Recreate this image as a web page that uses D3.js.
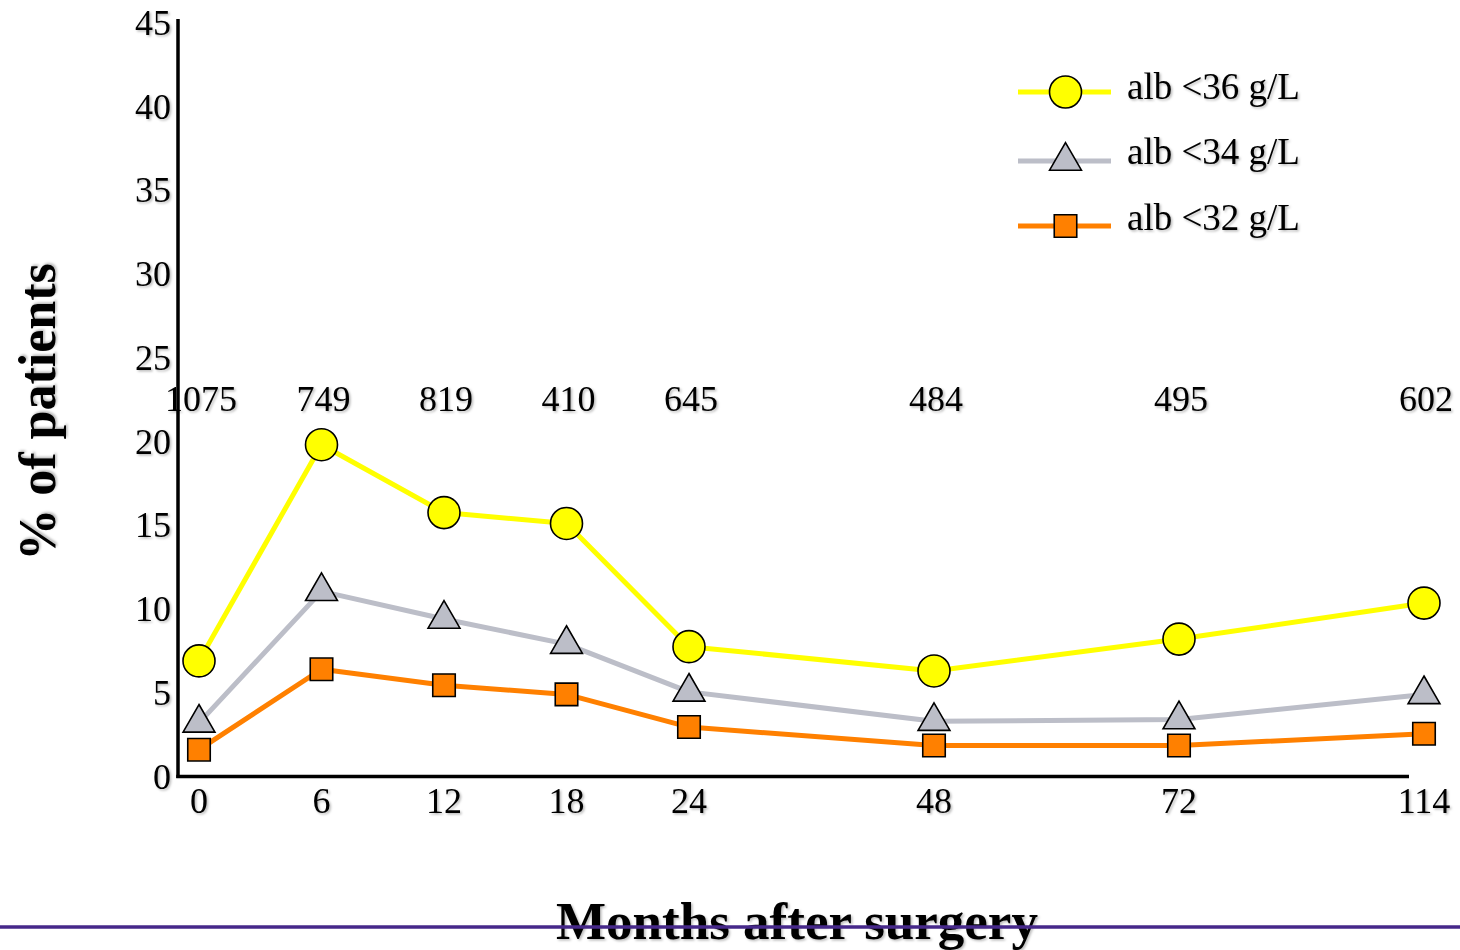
<!DOCTYPE html>
<html>
<head>
<meta charset="utf-8">
<script src="https://cdn.jsdelivr.net/npm/d3@7"></script>
<style>
  html, body { margin: 0; padding: 0; background: #ffffff; }
  svg { display: block; }
  text { font-family: "Liberation Serif", "Times New Roman", serif; fill: #000; }
</style>
</head>
<body>
<svg id="chart" width="1460" height="950"></svg>
<script>
// ---- data ----
const months = ["0", "6", "12", "18", "24", "48", "72", "114"];
const xSlot = [0, 1, 2, 3, 4, 6, 8, 10];           // uneven spacing of categories
const nPatients = ["1075", "749", "819", "410", "645", "484", "495", "602"];
const alb36 = [6.9, 19.8, 15.75, 15.1, 7.75, 6.3, 8.2, 10.35];
const alb34 = [3.2, 11.05, 9.4, 7.9, 5.05, 3.3, 3.4, 4.9];
const alb32 = [1.6, 6.4, 5.45, 4.9, 2.95, 1.85, 1.85, 2.55];
const seriesNames = ["alb <36 g/L", "alb <34 g/L", "alb <32 g/L"];
const yTicks = [0, 5, 10, 15, 20, 25, 30, 35, 40, 45];

// ---- layout ----
const svg = d3.select("#chart");
const axisX0 = 178, axisX1 = 1409, axisYTop = 19;
const x = d3.scaleLinear().domain([0, 10]).range([199, 1424]);
const y = d3.scaleLinear().domain([0, 45]).range([776.5, 22.5]);

const defs = svg.append("defs");
const f = defs.append("filter").attr("id", "shadow")
  .attr("x", "-10%").attr("y", "-10%").attr("width", "130%").attr("height", "140%");
f.append("feDropShadow").attr("dx", 1.5).attr("dy", 1.5)
  .attr("stdDeviation", 1).attr("flood-color", "#000").attr("flood-opacity", 0.28);

const series = [
  { name: seriesNames[0], values: alb36, color: "#FFFF00", shape: "circle" },
  { name: seriesNames[1], values: alb34, color: "#BCBEC8", shape: "triangle" },
  { name: seriesNames[2], values: alb32, color: "#FF8000", shape: "square" }
];

// axes
svg.append("line").attr("x1", axisX0).attr("x2", axisX0)
  .attr("y1", axisYTop).attr("y2", y(0) + 1.5)
  .attr("stroke", "#000").attr("stroke-width", 3.5);
svg.append("line").attr("x1", axisX0 - 1.75).attr("x2", axisX1)
  .attr("y1", y(0)).attr("y2", y(0))
  .attr("stroke", "#000").attr("stroke-width", 3.5);

// y tick labels
svg.append("g").attr("filter", "url(#shadow)")
  .selectAll("text").data(yTicks).join("text")
  .attr("x", 171).attr("y", d => y(d))
  .attr("dy", "0.34em")
  .attr("text-anchor", "end")
  .attr("font-size", 36)
  .text(d => d);

// x tick labels
svg.append("g").attr("filter", "url(#shadow)")
  .selectAll("text").data(months).join("text")
  .attr("x", (d, i) => x(xSlot[i]))
  .attr("y", 813)
  .attr("text-anchor", "middle")
  .attr("font-size", 36)
  .text(d => d);

// patient counts
svg.append("g").attr("filter", "url(#shadow)")
  .selectAll("text").data(nPatients).join("text")
  .attr("x", (d, i) => x(xSlot[i]) + 2)
  .attr("y", 411)
  .attr("text-anchor", "middle")
  .attr("font-size", 36)
  .text(d => d);

// lines
const line = d3.line().x((d, i) => x(xSlot[i])).y(d => y(d));
series.forEach(s => {
  svg.append("path").datum(s.values)
    .attr("d", line).attr("fill", "none")
    .attr("stroke", s.color).attr("stroke-width", 5)
    .attr("stroke-linejoin", "round");
});

const symType = { circle: d3.symbolCircle, triangle: d3.symbolTriangle, square: d3.symbolSquare };
const symSize = { circle: Math.PI * 16 * 16, triangle: 440, square: 22.5 * 22.5 };
function marker(g, s, cx, cy) {
  g.append("path")
    .attr("d", d3.symbol().type(symType[s.shape]).size(symSize[s.shape])())
    .attr("transform", `translate(${cx},${cy})`)
    .attr("fill", s.color).attr("stroke", "#000").attr("stroke-width", 1.6);
}

// markers (draw squares first, then triangles, then circles on top)
series.slice().reverse().forEach(s => {
  const g = svg.append("g");
  s.values.forEach((v, i) => marker(g, s, x(xSlot[i]), y(v)));
});

// legend
const legendY = [92, 161, 226];
const legendTextY = [99, 164, 230];
series.forEach((s, i) => {
  const g = svg.append("g");
  g.append("line").attr("x1", 1018).attr("x2", 1111)
    .attr("y1", legendY[i]).attr("y2", legendY[i])
    .attr("stroke", s.color).attr("stroke-width", 5);
  marker(g, s, 1065.5, legendY[i]);
  svg.append("text").attr("x", 1127).attr("y", legendTextY[i])
    .attr("font-size", 37).attr("filter", "url(#shadow)")
    .text(s.name);
});

// y-axis title
svg.append("text")
  .attr("transform", "translate(55,412) rotate(-90)")
  .attr("text-anchor", "middle")
  .attr("font-size", 52).attr("font-weight", "bold")
  .attr("filter", "url(#shadow)")
  .text("% of patients");

// x-axis title
svg.append("text")
  .attr("x", 797).attr("y", 939)
  .attr("text-anchor", "middle")
  .attr("font-size", 53).attr("font-weight", "bold")
  .attr("filter", "url(#shadow)")
  .text("Months after surgery");

// purple rule across bottom
svg.append("line").attr("x1", 0).attr("x2", 1460)
  .attr("y1", 927).attr("y2", 927)
  .attr("stroke", "#46288A").attr("stroke-width", 3.5);
</script>
</body>
</html>
